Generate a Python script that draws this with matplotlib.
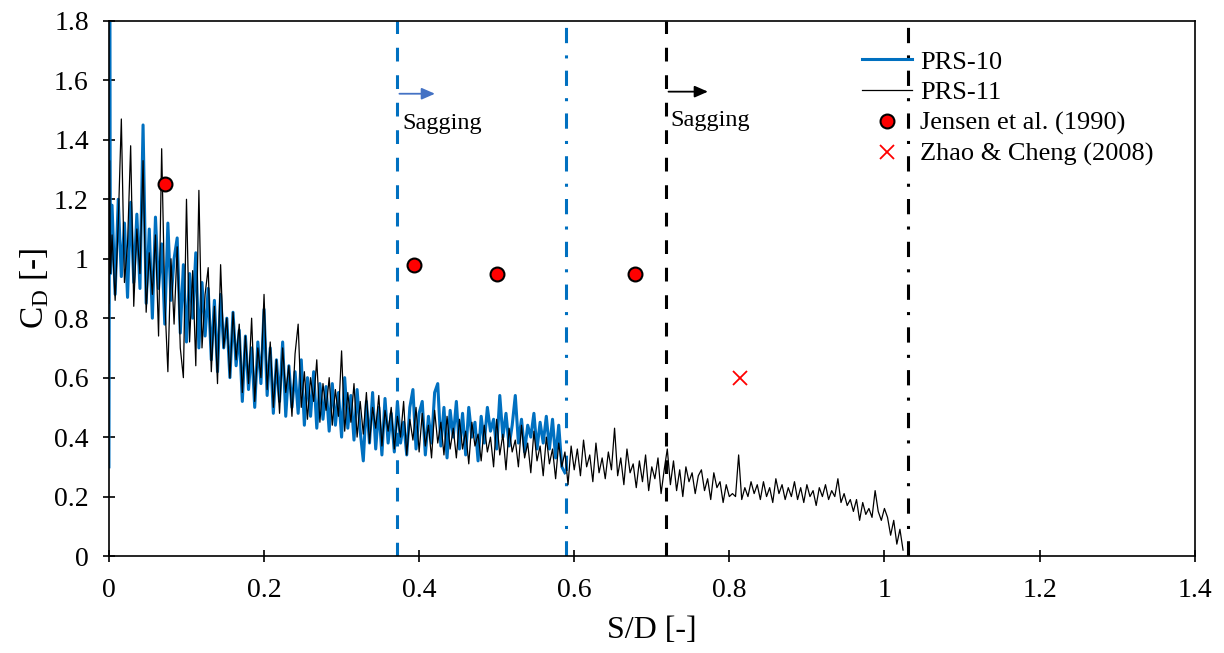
import matplotlib
matplotlib.use("Agg")
import matplotlib.pyplot as plt
import numpy as np

plt.rcParams['font.family'] = ['Liberation Serif', 'DejaVu Serif']
plt.rcParams['mathtext.fontset'] = 'custom'
plt.rcParams['mathtext.rm'] = 'Liberation Serif'

# start-up transients at S/D = 0
blue_x0 = [0.0, 0.001, 0.002]
blue_y0 = [0.30, 1.80, 0.95]
black_x0 = [0.0, 0.001, 0.002]
black_y0 = [0.85, 1.33, 0.95]

# PRS-10, sampled every 0.004 from S/D = 0.004
prs10 = [
    1.18, 0.88, 1.20, 0.94, 1.12, 0.87, 1.19, 0.92, 1.15, 0.90,
    1.45, 0.85, 1.10, 0.80, 1.14, 0.90, 1.05, 0.78, 1.12, 0.86,
    1.00, 1.07, 0.75, 0.98, 0.72, 0.95, 0.80, 1.02, 0.70, 0.92,
    0.74, 0.90, 0.66, 0.86, 0.62, 0.88, 0.70, 0.80, 0.60, 0.82,
    0.64, 0.76, 0.52, 0.74, 0.56, 0.70, 0.50, 0.72, 0.58, 0.83,
    0.54, 0.70, 0.48, 0.66, 0.52, 0.72, 0.47, 0.64, 0.50, 0.62,
    0.48, 0.66, 0.44, 0.60, 0.47, 0.62, 0.43, 0.58, 0.46, 0.57,
    0.42, 0.58, 0.44, 0.55, 0.40, 0.60, 0.43, 0.54, 0.39, 0.56,
    0.42, 0.32, 0.52, 0.38, 0.55, 0.36, 0.50, 0.34, 0.53, 0.38,
    0.48, 0.35, 0.52, 0.38, 0.45, 0.34, 0.50, 0.56, 0.36, 0.48,
    0.52, 0.34, 0.47, 0.38, 0.55, 0.58, 0.37, 0.50, 0.33, 0.49,
    0.40, 0.52, 0.36, 0.48, 0.34, 0.50, 0.40, 0.45, 0.32, 0.47,
    0.38, 0.50, 0.42, 0.46, 0.36, 0.54, 0.40, 0.48, 0.37, 0.44,
    0.54, 0.38, 0.46, 0.35, 0.44, 0.40, 0.48, 0.36, 0.45, 0.38,
    0.47, 0.36, 0.46, 0.33, 0.44, 0.30, 0.28,
]

# PRS-11, sampled every 0.004 from S/D = 0.004
prs11 = [
    1.08, 0.86, 1.12, 1.47, 0.92, 1.05, 1.38, 0.84, 1.10, 0.95,
    1.33, 0.82, 1.02, 0.88, 1.08, 0.74, 1.37, 0.86, 0.62, 1.00,
    0.78, 1.04, 0.70, 0.60, 1.20, 0.72, 0.96, 0.64, 1.23, 0.70,
    0.88, 0.97, 0.62, 0.84, 0.58, 0.98, 0.70, 0.80, 0.60, 0.82,
    0.66, 0.78, 0.55, 0.74, 0.58, 0.80, 0.52, 0.70, 0.60, 0.88,
    0.56, 0.72, 0.50, 0.66, 0.48, 0.70, 0.55, 0.64, 0.47, 0.68,
    0.78, 0.50, 0.62, 0.46, 0.60, 0.52, 0.66, 0.45, 0.58, 0.49,
    0.60, 0.44, 0.56, 0.47, 0.69, 0.42, 0.55, 0.45, 0.58, 0.40,
    0.52, 0.41, 0.55, 0.38, 0.50, 0.43, 0.54, 0.37, 0.49, 0.42,
    0.50, 0.36, 0.47, 0.40, 0.52, 0.34, 0.46, 0.39, 0.50, 0.35,
    0.48, 0.37, 0.44, 0.33, 0.49, 0.38, 0.45, 0.34, 0.47, 0.36,
    0.43, 0.33, 0.46, 0.36, 0.42, 0.31, 0.45, 0.37, 0.41, 0.32,
    0.44, 0.35, 0.40, 0.30, 0.46, 0.34, 0.41, 0.29, 0.43, 0.35,
    0.39, 0.30, 0.44, 0.33, 0.38, 0.28, 0.42, 0.32, 0.37, 0.27,
    0.40, 0.31, 0.36, 0.26, 0.38, 0.30, 0.35, 0.24, 0.37, 0.29,
    0.36, 0.27, 0.39, 0.30, 0.34, 0.25, 0.38, 0.28, 0.33, 0.26,
    0.35, 0.29, 0.43, 0.27, 0.33, 0.24, 0.36, 0.28, 0.31, 0.23,
    0.32, 0.25, 0.34, 0.22, 0.30, 0.26, 0.33, 0.21, 0.29, 0.36,
    0.24, 0.32, 0.22, 0.29, 0.20, 0.30, 0.25, 0.28, 0.21, 0.27,
    0.29, 0.22, 0.26, 0.19, 0.28, 0.23, 0.25, 0.18, 0.24, 0.20,
    0.21, 0.20, 0.34, 0.19, 0.23, 0.20, 0.25, 0.21, 0.24, 0.19,
    0.25, 0.20, 0.23, 0.18, 0.26, 0.21, 0.24, 0.19, 0.23, 0.20,
    0.25, 0.19, 0.23, 0.18, 0.24, 0.20, 0.22, 0.17, 0.23, 0.20,
    0.24, 0.19, 0.22, 0.20, 0.26, 0.18, 0.21, 0.17, 0.19, 0.15,
    0.19, 0.12, 0.18, 0.14, 0.16, 0.13, 0.22, 0.15, 0.12, 0.16,
    0.13, 0.07, 0.12, 0.04, 0.09, 0.02,
]
step = 0.004

jensen_x = [0.072, 0.393, 0.50, 0.678]
jensen_y = [1.25, 0.98, 0.95, 0.95]
zhao_x = [0.814]
zhao_y = [0.60]

# limits of the regions (S/D)
blue_limits = [0.371, 0.590]
black_limits = [0.718, 1.031]

blue = '#0070C0'

x10 = np.concatenate([blue_x0, step * (np.arange(len(prs10)) + 1)])
y10 = np.concatenate([blue_y0, prs10])
x11 = np.concatenate([black_x0, step * (np.arange(len(prs11)) + 1)])
y11 = np.concatenate([black_y0, prs11])

fig = plt.figure(figsize=(12.24, 6.53), dpi=100)
ax = fig.add_axes([0.089, 0.1485, 0.887, 0.8195])

ax.plot(x10, y10, color=blue, lw=2.2, label='PRS-10', zorder=2)
ax.plot(x11, y11, color='black', lw=0.9, label='PRS-11', zorder=3)
ax.plot(jensen_x, jensen_y, 'o', ms=10, mfc='red', mec='black', mew=1.5,
        label='Jensen et al. (1990)', zorder=5)
ax.plot(zhao_x, zhao_y, 'x', ms=10, mec='red', mew=1.3,
        label='Zhao & Cheng (2008)', zorder=5)

dash = (0, (4.5, 4.5))
dashdot = (0, (5, 4, 1, 4))
ax.axvline(blue_limits[0], color=blue, lw=2.2, ls=dash, zorder=1)
ax.axvline(blue_limits[1], color=blue, lw=2.2, ls=dashdot, zorder=1)
ax.axvline(black_limits[0], color='black', lw=2.2, ls=dash, zorder=1)
ax.axvline(black_limits[1], color='black', lw=2.2, ls=dashdot, zorder=1)

ax.annotate('', xy=(blue_limits[0] + 0.053, 1.555), xytext=(blue_limits[0], 1.555),
            arrowprops=dict(arrowstyle='-|>,head_length=0.8,head_width=0.35',
                            color='#4472C4', lw=1.3))
ax.annotate('', xy=(black_limits[0] + 0.058, 1.562), xytext=(black_limits[0], 1.562),
            arrowprops=dict(arrowstyle='-|>,head_length=0.8,head_width=0.35',
                            color='black', lw=1.3))
ax.text(blue_limits[0] + 0.008, 1.455, 'Sagging', fontsize=17.5, va='center')
ax.text(black_limits[0] + 0.006, 1.465, 'Sagging', fontsize=17.5, va='center')

ax.set_xlim(0, 1.4)
ax.set_ylim(0, 1.8)
ax.set_xticks(np.arange(0, 1.41, 0.2))
ax.set_yticks(np.arange(0, 1.81, 0.2))
ax.set_xticklabels(['0', '0.2', '0.4', '0.6', '0.8', '1', '1.2', '1.4'])
ax.set_yticklabels(['0', '0.2', '0.4', '0.6', '0.8', '1', '1.2', '1.4', '1.6', '1.8'])
ax.tick_params(direction='inout', length=9, width=1.2, labelsize=20)
ax.tick_params(axis='x', pad=11)
ax.tick_params(axis='y', pad=10)
for s in ax.spines.values():
    s.set_linewidth(1.2)

ax.set_xlabel('S/D [-]', fontsize=23, labelpad=10)
ax.set_ylabel(r'C$_\mathrm{D}$ [-]', fontsize=24, labelpad=2)

ax.legend(loc='upper left', bbox_to_anchor=(0.684, 0.965), frameon=False,
          fontsize=19, handlelength=1.9, handletextpad=0.3, labelspacing=0.27,
          borderaxespad=0)

fig.savefig('out.png', dpi=100)
